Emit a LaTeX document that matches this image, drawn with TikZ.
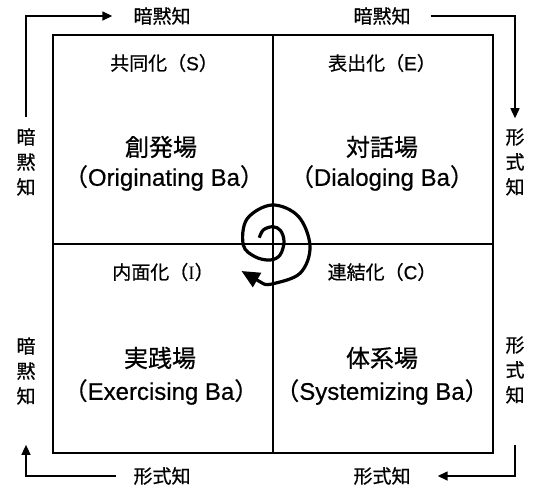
\documentclass[tikz,border=0pt]{standalone}
\usepackage{fontspec}
\setmainfont{Noto Sans CJK JP}[RawFeature={embolden=0.6}]
\newfontfamily\lat{Liberation Sans}[RawFeature={embolden=0.6}]
\newfontfamily\latserif{Liberation Serif}
\usetikzlibrary{arrows.meta}
\tikzset{
  small/.style={inner sep=0pt, font=\fontsize{19}{20}\selectfont},
  big/.style={inner sep=0pt, font=\fontsize{24}{28}\selectfont},
  vert/.style={inner sep=0pt, align=center, font=\fontsize{19}{25}\selectfont},
  frame/.style={line width=1.3pt},
  conn/.style={line width=1.5pt, -{Triangle[length=10pt,width=9pt]}},
  spiral/.style={line width=3.2pt, -{Triangle[length=18pt,width=16pt]}}
}
\begin{document}
\begin{tikzpicture}[x=1pt,y=-1pt]
\useasboundingbox (0,0) rectangle (534,485);
% frame
\draw[frame] (53,35) rectangle (493,453);
\draw[frame] (273,35) -- (273,453);
\draw[frame] (53,244) -- (493,244);
% outer labels
\node[small] (tl) at (162,16) {暗黙知};
\node[small] (tr) at (382,16) {暗黙知};
\node[small] (bl) at (162,476) {形式知};
\node[small] (br) at (382,476) {形式知};
\node[vert] (lv1) at (26,162) {暗\\黙\\知};
\node[vert] (rv1) at (515,162) {形\\式\\知};
\node[vert] (lv2) at (26,371) {暗\\黙\\知};
\node[vert] (rv2) at (515,370) {形\\式\\知};
% cell labels
\node[small] (sS) at (164,63) {共同化（{\lat S}）};
\node[small] (sE) at (382,63) {表出化（{\lat E}）};
\node[small] (sI) at (163,272) {内面化（{\latserif I}）};
\node[small] (sC) at (382,272) {連結化（{\lat C}）};
\node[big] (c1) at (161,147) {創発場};
\node[big] (c1e) at (164,178) {（{\lat Originating Ba}）};
\node[big] (c2) at (382,147) {対話場};
\node[big] (c2e) at (382,178) {（{\lat Dialoging Ba}）};
\node[big] (c3) at (160,358) {実践場};
\node[big] (c3e) at (161,392) {（{\lat Exercising Ba}）};
\node[big] (c4) at (382,358) {体系場};
\node[big] (c4e) at (382,392) {（{\lat Systemizing Ba}）};
% connectors
\draw[conn, shorten <=11pt, shorten >=21pt] (lv1.north) |- (tl.west);
\draw[conn, shorten <=20pt, shorten >=10pt] (tr.east) -| (rv1.north);
\draw[conn, shorten <=41pt, shorten >=27pt] (rv2.south) |- (br.east);
\draw[conn, shorten <=17pt, shorten >=40pt] (bl.west) -| (lv2.south);
% spiral
\draw[spiral] plot[smooth, tension=0.6] coordinates {
 (259.3,237.7) (263.3,230) (272.7,226.7) (280.5,230.5) (284,241.7) (280,255)
 (270,260) (255,256.7) (243.3,245) (247,219) (272,205) (298.5,216.5)
 (310,246.7) (300,273.3) (272,284) (263,283.5)} -- (241.5,271);
\end{tikzpicture}
\end{document}
